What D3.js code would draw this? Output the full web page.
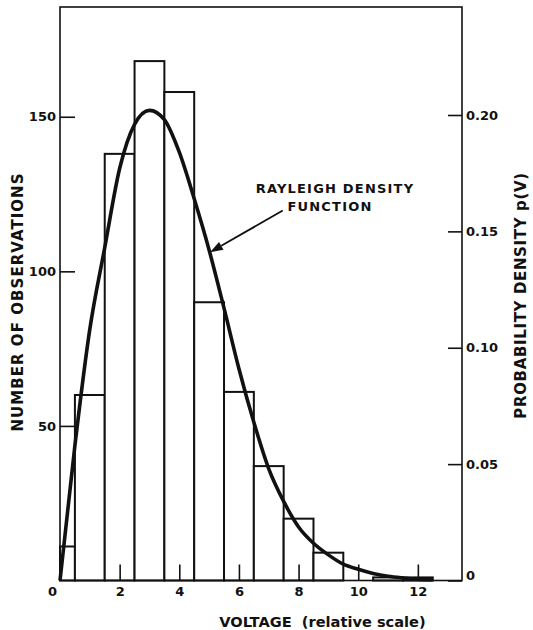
<!DOCTYPE html>
<html>
<head>
<meta charset="utf-8">
<script src="https://cdn.jsdelivr.net/npm/d3@7/dist/d3.min.js"></script>
<style>
  html, body { margin: 0; padding: 0; background: #fff; }
  svg { display: block; }
  text { font-family: "DejaVu Sans", sans-serif; font-weight: bold; fill: #111; }
</style>
</head>
<body>
<svg id="chart" width="533" height="630"></svg>
<script>
// ---- data ----
const binLo  = [0, 0.5, 1.5, 2.5, 3.5, 4.5, 5.5, 6.5, 7.5, 8.5, 10.5, 11.5];
const binHi  = [0.5, 1.5, 2.5, 3.5, 4.5, 5.5, 6.5, 7.5, 8.5, 9.5, 11.5, 12.5];
const counts = [11, 60, 138, 168, 158, 90, 61, 37, 20, 9, 1, 1];

const curveV = [0, 0.5, 1, 1.5, 2, 2.5, 3, 3.5, 4, 4.5, 5, 5.5, 6, 6.5, 7, 7.5, 8, 8.5, 9, 9.5, 10, 10.5, 11, 11.5, 12, 12.5];
const curveP = [0, 0.058, 0.108, 0.143, 0.177, 0.196, 0.202, 0.198, 0.184, 0.164, 0.142, 0.117, 0.091, 0.068, 0.048, 0.034, 0.023, 0.016, 0.011, 0.007, 0.0048, 0.003, 0.0018, 0.0011, 0.0006, 0.0003];

const xTicks = [0, 2, 4, 6, 8, 10, 12];
const countTicks = [50, 100, 150];
const densTicks = [0, 0.05, 0.10, 0.15, 0.20];
const densTickLabels = ["0", "0.05", "0.10", "0.15", "0.20"];

const xTitle = "VOLTAGE  (relative scale)";
const yLeftTitle = "NUMBER OF OBSERVATIONS";
const yRightTitle = "PROBABILITY DENSITY p(V)";
const noteLines = ["RAYLEIGH DENSITY", "FUNCTION"];
const arrowTail = [7.47, 0.159];
const arrowTip = [5.03, 0.141];

// ---- layout ----
const L = 60, R = 462, T = 7, B = 580.5;
const svg = d3.select("#chart");

const x = d3.scaleLinear().domain([0, 13.48]).range([L, R]);
const yC = d3.scaleLinear().domain([0, 185.5]).range([B, T]);
const yD = d3.scaleLinear().domain([0, 0.2464]).range([B, T]);

// bars
const bars = binLo.map((lo, i) => ({ lo, hi: binHi[i], n: counts[i] }));
svg.append("g").selectAll("rect").data(bars).join("rect")
  .attr("x", d => x(d.lo))
  .attr("y", d => yC(d.n))
  .attr("width", d => x(d.hi) - x(d.lo))
  .attr("height", d => yC(0) - yC(d.n))
  .attr("fill", "#fff")
  .attr("stroke", "#111")
  .attr("stroke-width", 2);

// frame
svg.append("rect")
  .attr("x", L).attr("y", T).attr("width", R - L).attr("height", B - T)
  .attr("fill", "none").attr("stroke", "#111").attr("stroke-width", 1.6);

// curve
const pts = curveV.map((v, i) => [v, curveP[i]]);
svg.append("path")
  .datum(pts)
  .attr("fill", "none")
  .attr("stroke", "#111")
  .attr("stroke-width", 3.6)
  .attr("stroke-linejoin", "round")
  .attr("d", d3.line().x(d => x(d[0])).y(d => yD(d[1])).curve(d3.curveMonotoneX));

// axes
function styleAxis(g) {
  g.select(".domain").remove();
  g.selectAll(".tick line").attr("stroke", "#111").attr("stroke-width", 1.6);
  g.selectAll(".tick text")
    .attr("font-family", "DejaVu Sans, sans-serif")
    .attr("font-weight", "bold")
    .attr("font-size", 13)
    .attr("fill", "#111");
}

const gx = svg.append("g").attr("transform", `translate(0,${B})`)
  .call(d3.axisBottom(x).tickValues(xTicks).tickSize(-16).tickPadding(6).tickFormat(d3.format("d")))
  .call(styleAxis);
gx.selectAll(".tick").filter(d => d === 0).select("text").attr("dx", -8);
gx.selectAll(".tick").filter(d => d === 0).select("line").remove();

svg.append("g").attr("transform", `translate(${L},0)`)
  .call(d3.axisLeft(yC).tickValues(countTicks).tickSize(-15).tickPadding(4))
  .call(styleAxis);

const gr = svg.append("g").attr("transform", `translate(${R},0)`)
  .call(d3.axisRight(yD).tickValues(densTicks).tickSize(-14).tickPadding(4)
        .tickFormat((d, i) => densTickLabels[i]))
  .call(styleAxis);
gr.selectAll(".tick").filter(d => d === 0).select("text").attr("dy", "-0.05em");

// axis titles
svg.append("text")
  .attr("x", 322.5).attr("y", 626.5)
  .attr("text-anchor", "middle")
  .attr("font-size", 14.6)
  .style("white-space", "pre")
  .text(xTitle);

svg.append("text")
  .attr("transform", `translate(23,302) rotate(-90)`)
  .attr("text-anchor", "middle")
  .attr("font-size", 15)
  .attr("letter-spacing", 1.05)
  .text(yLeftTitle);

svg.append("text")
  .attr("transform", `translate(526,295.5) rotate(-90)`)
  .attr("text-anchor", "middle")
  .attr("font-size", 15)
  .attr("letter-spacing", 0.65)
  .text(yRightTitle);

// annotation
svg.append("text")
  .attr("x", 335).attr("y", 192.7)
  .attr("text-anchor", "middle")
  .attr("font-size", 13)
  .attr("letter-spacing", 1.2)
  .text(noteLines[0]);
svg.append("text")
  .attr("x", 330).attr("y", 210.7)
  .attr("text-anchor", "middle")
  .attr("font-size", 13)
  .attr("letter-spacing", 1.2)
  .text(noteLines[1]);

const tx = x(arrowTail[0]), ty = yD(arrowTail[1]);
const hx = x(arrowTip[0]), hy = yD(arrowTip[1]);
const ang = Math.atan2(hy - ty, hx - tx);
const headLen = 13, headW = 4.5;
const bx = hx - headLen * Math.cos(ang), by = hy - headLen * Math.sin(ang);
svg.append("line")
  .attr("x1", tx).attr("y1", ty).attr("x2", bx).attr("y2", by)
  .attr("stroke", "#111").attr("stroke-width", 1.8);
svg.append("path")
  .attr("d", d3.line()([
    [hx, hy],
    [bx + headW * Math.sin(ang), by - headW * Math.cos(ang)],
    [bx - headW * Math.sin(ang), by + headW * Math.cos(ang)]
  ]) + "Z")
  .attr("fill", "#111");
</script>
</body>
</html>
